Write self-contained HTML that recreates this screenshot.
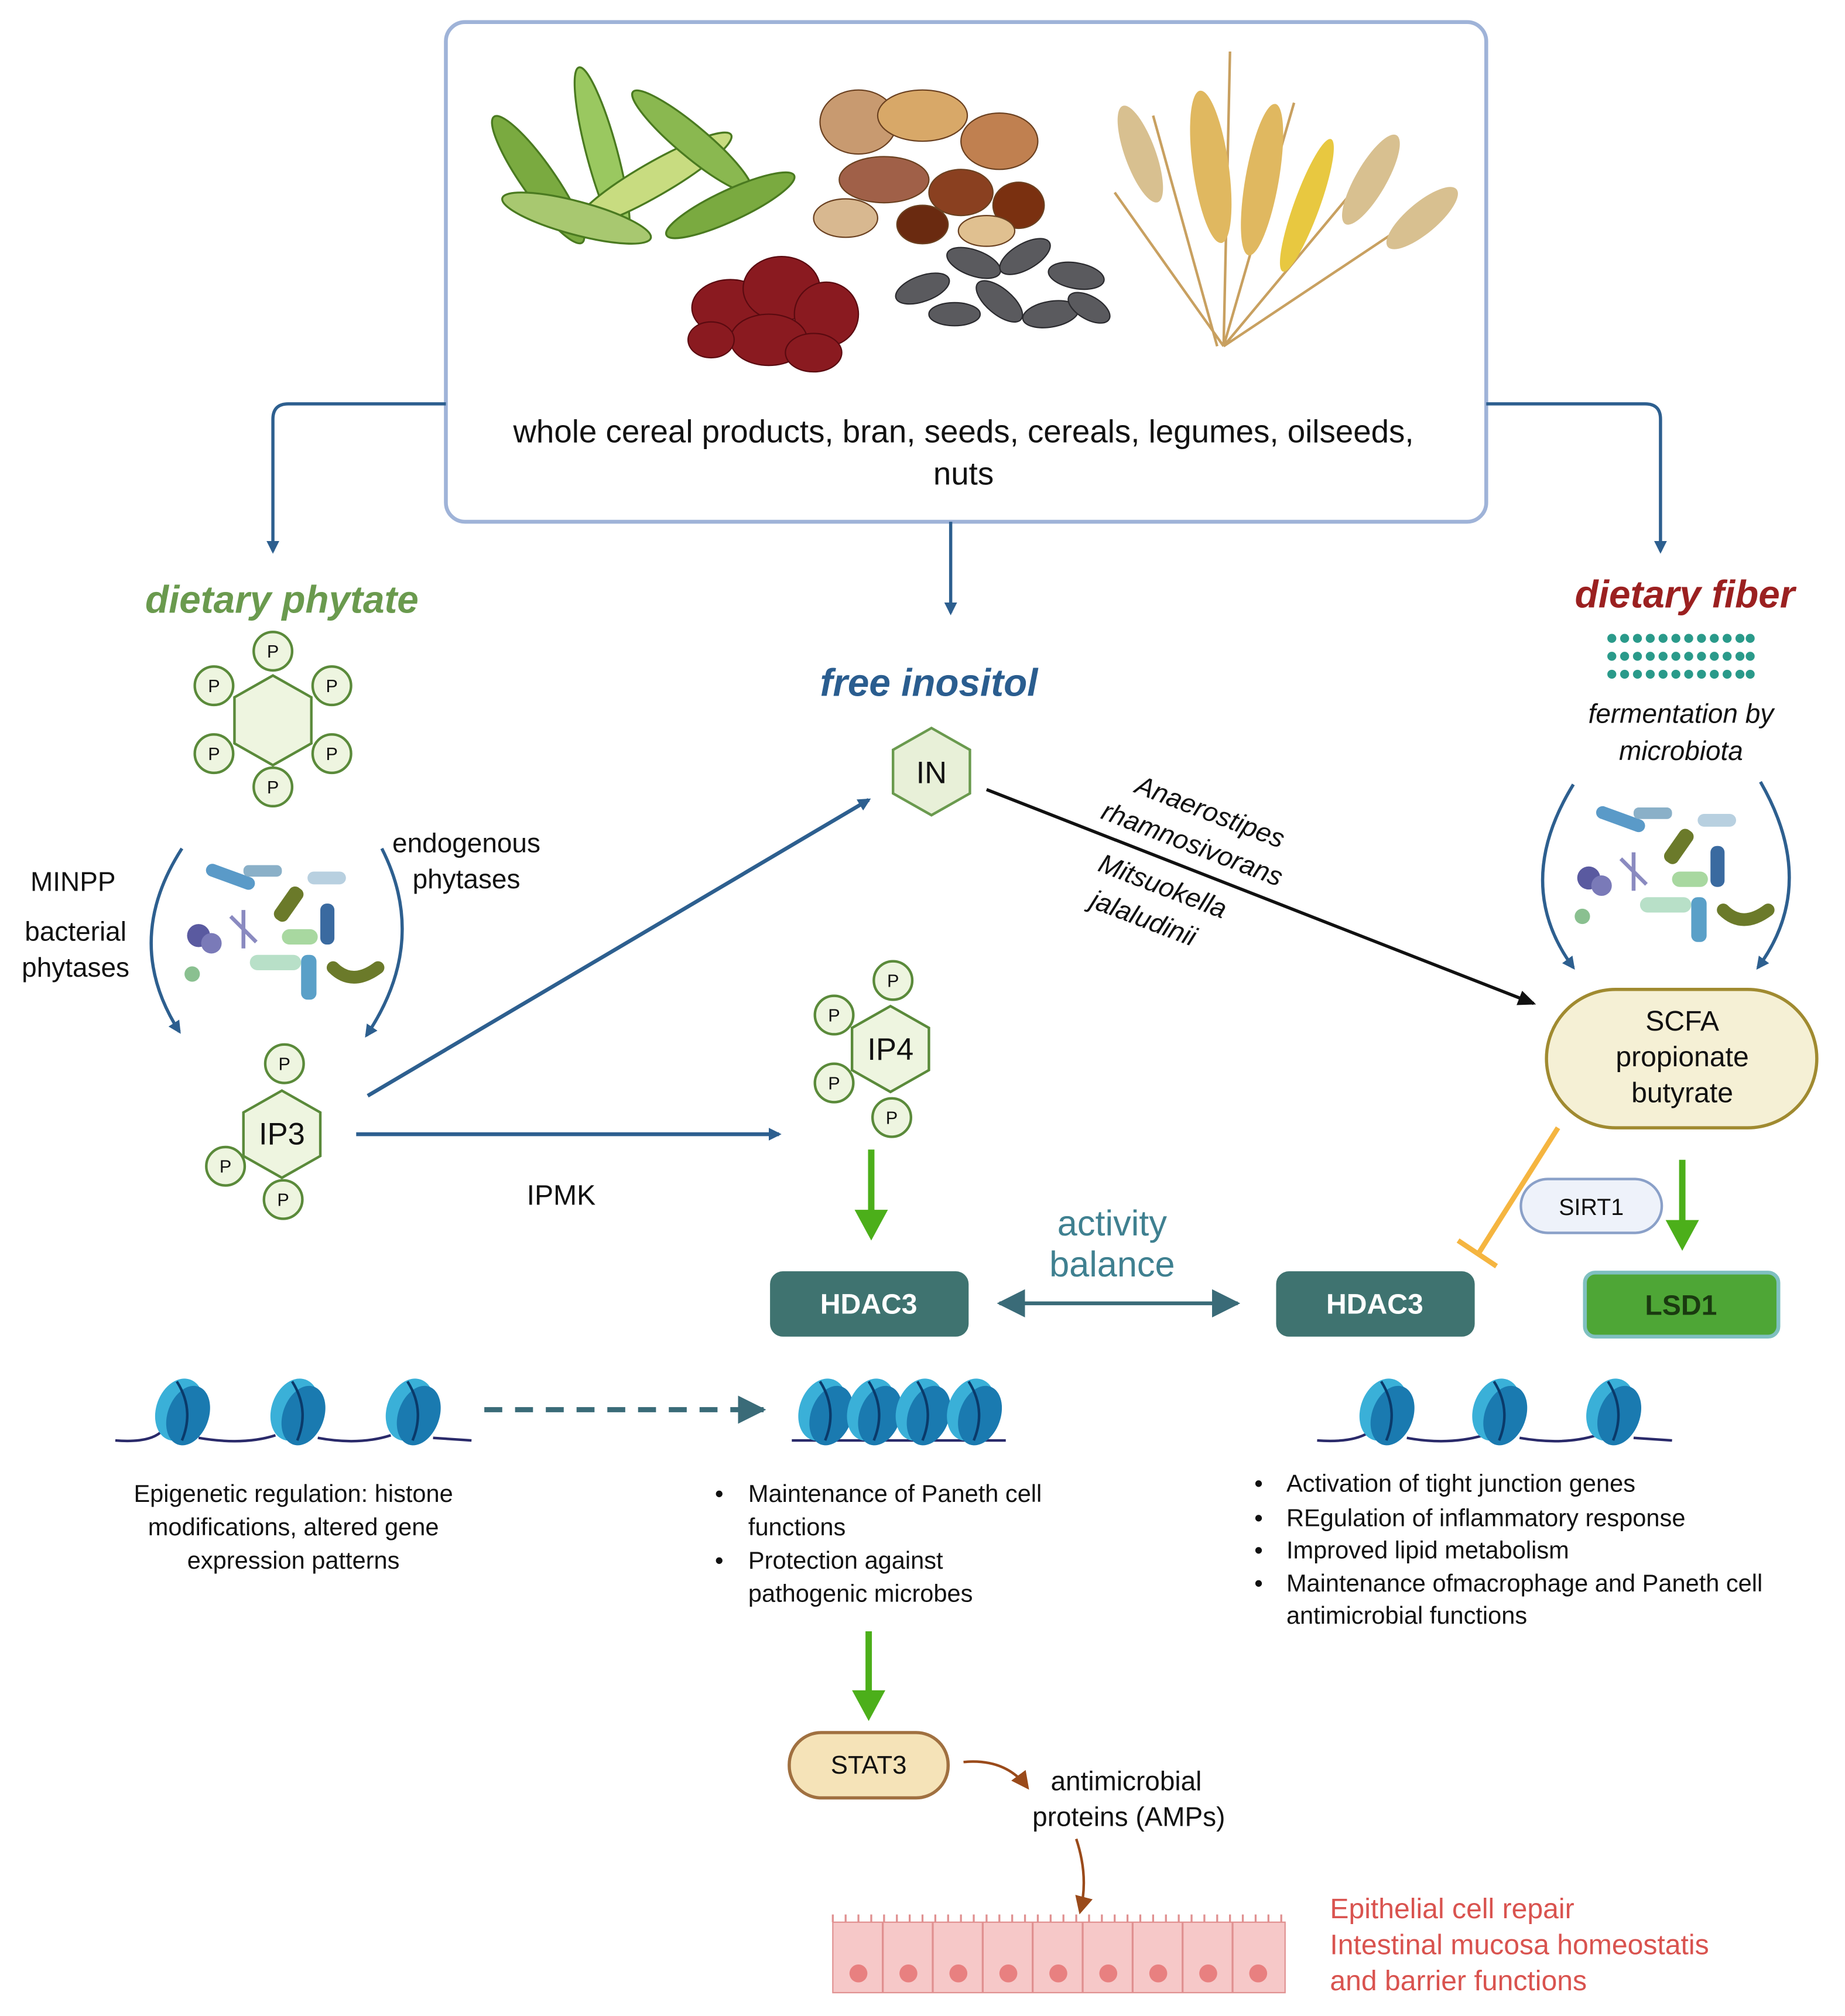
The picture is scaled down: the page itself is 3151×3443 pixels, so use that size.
<!DOCTYPE html>
<html><head><meta charset="utf-8"><style>html,body{margin:0;padding:0;background:#fff}svg{display:block}text{font-family:"Liberation Sans","DejaVu Sans",sans-serif}</style></head><body>
<svg width="3151" height="3443" viewBox="0 0 1440 1573" xmlns="http://www.w3.org/2000/svg">
<defs>
<marker id="ab" markerWidth="10" markerHeight="10" refX="8" refY="5" orient="auto" markerUnits="userSpaceOnUse"><path d="M0,0 L10,5 L0,10 z" fill="#2d5f8f"/></marker>
<marker id="ak" markerWidth="14" markerHeight="12" refX="12" refY="6" orient="auto" markerUnits="userSpaceOnUse"><path d="M0,0 L14,6 L0,12 z" fill="#111"/></marker>
<marker id="ag" markerWidth="26" markerHeight="26" refX="2" refY="13" orient="auto" markerUnits="userSpaceOnUse"><path d="M0,0 L24,13 L0,26 z" fill="#4caf1a"/></marker>
<marker id="at" markerWidth="22" markerHeight="22" refX="20" refY="11" orient="auto" markerUnits="userSpaceOnUse"><path d="M0,0 L22,11 L0,22 z" fill="#3a6b78"/></marker>
<marker id="at2" markerWidth="22" markerHeight="22" refX="2" refY="11" orient="auto" markerUnits="userSpaceOnUse"><path d="M22,0 L0,11 L22,22 z" fill="#3a6b78"/></marker>
<marker id="abr" markerWidth="14" markerHeight="14" refX="12" refY="7" orient="auto" markerUnits="userSpaceOnUse"><path d="M0,0 L14,7 L0,14 z" fill="#9a4a1a"/></marker>
<g id="bact">
<rect x="-70" y="-25" width="40" height="10" rx="5" fill="#5a9ac8" transform="rotate(20)"/>
<circle cx="-65" cy="10" r="9" fill="#5a5aa0"/><circle cx="-55" cy="16" r="8" fill="#7a7ab8"/>
<rect x="-10" y="-30" width="12" height="30" rx="5" fill="#6b7a2a" transform="rotate(35)"/>
<rect x="20" y="-40" width="30" height="10" rx="5" fill="#b8d0e0"/>
<rect x="-30" y="-45" width="30" height="9" rx="4" fill="#8ab0c8"/>
<rect x="0" y="5" width="28" height="12" rx="6" fill="#a8d8a0"/>
<rect x="30" y="-15" width="11" height="32" rx="5" fill="#3a6aa0"/>
<rect x="-25" y="25" width="40" height="12" rx="6" fill="#b8e0c8"/>
<rect x="15" y="25" width="12" height="35" rx="5" fill="#5aa0c8"/>
<path d="M40,35 q15,15 35,0" stroke="#6b7a2a" stroke-width="10" fill="none" stroke-linecap="round"/>
<circle cx="-70" cy="40" r="6" fill="#8ac090"/>
<path d="M-40,-5 l20,20 M-30,-10 l0,30" stroke="#8a8ac0" stroke-width="3"/>
</g>
<g id="fr" fill="#2a9a8a"><circle cx="1258" cy="0" r="3.5"/><circle cx="1268" cy="0" r="3.5"/><circle cx="1278" cy="0" r="3.5"/><circle cx="1288" cy="0" r="3.5"/><circle cx="1298" cy="0" r="3.5"/><circle cx="1308" cy="0" r="3.5"/><circle cx="1318" cy="0" r="3.5"/><circle cx="1328" cy="0" r="3.5"/><circle cx="1338" cy="0" r="3.5"/><circle cx="1348" cy="0" r="3.5"/><circle cx="1358" cy="0" r="3.5"/><circle cx="1366" cy="0" r="3.5"/></g>
<g id="nuc"><ellipse cx="0" cy="0" rx="18" ry="25" fill="#3ab0d8" transform="rotate(20)"/><ellipse cx="8" cy="2" rx="16" ry="24" fill="#1a7ab0" transform="rotate(20)"/><path d="M-2,-22 Q12,0 2,24" stroke="#0a3a6a" stroke-width="2" fill="none"/></g>
</defs>
<!-- top box -->
<rect x="348" y="17" width="812" height="390" rx="15" fill="#fff" stroke="#9fb3d8" stroke-width="3"/>
<!-- foods -->
<g>
<g fill="#7aaa40" stroke="#4a7a20" stroke-width="1.5">
<ellipse cx="420" cy="140" rx="60" ry="13" transform="rotate(55 420 140)"/>
<ellipse cx="470" cy="120" rx="70" ry="12" transform="rotate(75 470 120)" fill="#9ac860"/>
<ellipse cx="510" cy="140" rx="70" ry="13" transform="rotate(-30 510 140)" fill="#c8dc80"/>
<ellipse cx="540" cy="110" rx="60" ry="12" transform="rotate(40 540 110)" fill="#8ab850"/>
<ellipse cx="570" cy="160" rx="55" ry="12" transform="rotate(-25 570 160)"/>
<ellipse cx="450" cy="170" rx="60" ry="13" transform="rotate(15 450 170)" fill="#a8c870"/>
</g>
<g stroke="#6a4020" stroke-width="1">
<ellipse cx="670" cy="95" rx="30" ry="25" fill="#c89a70"/><ellipse cx="720" cy="90" rx="35" ry="20" fill="#d8a868"/>
<ellipse cx="780" cy="110" rx="30" ry="22" fill="#c08050"/><ellipse cx="690" cy="140" rx="35" ry="18" fill="#a06048"/>
<ellipse cx="750" cy="150" rx="25" ry="18" fill="#8a4020"/><ellipse cx="660" cy="170" rx="25" ry="15" fill="#d8b890"/>
<ellipse cx="720" cy="175" rx="20" ry="15" fill="#6a2a10"/><ellipse cx="795" cy="160" rx="20" ry="18" fill="#7a3010"/>
<ellipse cx="770" cy="180" rx="22" ry="12" fill="#e0c090"/>
</g>
<g fill="#8a1a20" stroke="#5a0a10">
<ellipse cx="570" cy="240" rx="30" ry="22"/><ellipse cx="610" cy="225" rx="30" ry="25"/><ellipse cx="645" cy="245" rx="25" ry="25"/>
<ellipse cx="600" cy="265" rx="30" ry="20"/><ellipse cx="635" cy="275" rx="22" ry="15"/><ellipse cx="555" cy="265" rx="18" ry="14"/>
</g>
<g fill="#5a5a5e" stroke="#2a2a2e">
<ellipse cx="720" cy="225" rx="22" ry="10" transform="rotate(-20 720 225)"/><ellipse cx="760" cy="205" rx="22" ry="10" transform="rotate(20 760 205)"/>
<ellipse cx="800" cy="200" rx="22" ry="10" transform="rotate(-30 800 200)"/><ellipse cx="840" cy="215" rx="22" ry="10" transform="rotate(10 840 215)"/>
<ellipse cx="780" cy="235" rx="22" ry="10" transform="rotate(40 780 235)"/><ellipse cx="820" cy="245" rx="22" ry="10" transform="rotate(-10 820 245)"/>
<ellipse cx="745" cy="245" rx="20" ry="9"/><ellipse cx="850" cy="240" rx="18" ry="9" transform="rotate(30 850 240)"/>
</g>
<g stroke="#c8a060" stroke-width="2" fill="none">
<path d="M950,270 L900,90 M955,270 L960,40 M955,270 L1010,80 M955,270 L1080,120 M955,270 L870,150 M955,270 L1120,160"/>
</g>
<g fill="#e0b860">
<ellipse cx="945" cy="130" rx="14" ry="60" transform="rotate(-8 945 130)"/><ellipse cx="985" cy="140" rx="13" ry="60" transform="rotate(10 985 140)"/>
<ellipse cx="1020" cy="160" rx="10" ry="55" transform="rotate(20 1020 160)" fill="#e8c840"/>
<ellipse cx="890" cy="120" rx="12" ry="40" fill="#d8c090" transform="rotate(-20 890 120)"/>
<ellipse cx="1070" cy="140" rx="12" ry="40" fill="#d8c090" transform="rotate(30 1070 140)"/>
<ellipse cx="1110" cy="170" rx="12" ry="35" fill="#d8c090" transform="rotate(50 1110 170)"/>
</g>
</g>
<text x="752" y="345" font-size="25" text-anchor="middle" fill="#111">whole cereal products, bran, seeds, cereals, legumes, oilseeds,</text>
<text x="752" y="378" font-size="25" text-anchor="middle" fill="#111">nuts</text>
<!-- top arrows -->
<path d="M348,315 L225,315 Q213,315 213,327 L213,430" stroke="#2d5f8f" stroke-width="2.5" fill="none" marker-end="url(#ab)"/>
<path d="M1160,315 L1284,315 Q1296,315 1296,327 L1296,430" stroke="#2d5f8f" stroke-width="2.5" fill="none" marker-end="url(#ab)"/>
<path d="M742,407 L742,478" stroke="#2d5f8f" stroke-width="2.5" fill="none" marker-end="url(#ab)"/>
<!-- titles -->
<text x="220" y="478" font-size="30" font-weight="bold" font-style="italic" text-anchor="middle" fill="#6a9a4e">dietary phytate</text>
<text x="725" y="543" font-size="30" font-weight="bold" font-style="italic" text-anchor="middle" fill="#2a5d8f">free inositol</text>
<text x="1315" y="474" font-size="30" font-weight="bold" font-style="italic" text-anchor="middle" fill="#9b2020">dietary fiber</text>
<!-- phytate hexagon -->
<g stroke="#5a8a3a" stroke-width="2">
<polygon points="213,527 243,544 243,580 213,597 183,580 183,544" fill="#eef5e0"/>
<g fill="#eef5e0"><circle cx="213" cy="508" r="15"/><circle cx="167" cy="535" r="15"/><circle cx="259" cy="535" r="15"/><circle cx="167" cy="588" r="15"/><circle cx="259" cy="588" r="15"/><circle cx="213" cy="614" r="15"/></g>
</g>
<g font-size="14" text-anchor="middle" fill="#111"><text x="213" y="513">P</text><text x="167" y="540">P</text><text x="259" y="540">P</text><text x="167" y="593">P</text><text x="259" y="593">P</text><text x="213" y="619">P</text></g>
<!-- bacteria left -->
<g transform="translate(220,720)"><use href="#bact"/></g>
<path d="M142,662 Q95,735 140,805" stroke="#2d5f8f" stroke-width="2.5" fill="none" marker-end="url(#ab)"/>
<path d="M298,662 Q335,735 286,808" stroke="#2d5f8f" stroke-width="2.5" fill="none" marker-end="url(#ab)"/>
<g font-size="21" fill="#111" text-anchor="middle">
<text x="57" y="695">MINPP</text><text x="59" y="734">bacterial</text><text x="59" y="762">phytases</text>
<text x="364" y="665">endogenous</text><text x="364" y="693">phytases</text>
</g>
<!-- IP3 -->
<g stroke="#5a8a3a" stroke-width="2" fill="#eef5e0">
<polygon points="220,851 250,868 250,902 220,919 190,902 190,868"/>
<circle cx="222" cy="830" r="15"/><circle cx="176" cy="910" r="15"/><circle cx="221" cy="936" r="15"/>
</g>
<text x="220" y="893" font-size="24" text-anchor="middle" fill="#111">IP3</text>
<g font-size="14" text-anchor="middle" fill="#111"><text x="222" y="835">P</text><text x="176" y="915">P</text><text x="221" y="941">P</text></g>
<!-- IP4 -->
<g stroke="#5a8a3a" stroke-width="2" fill="#eef5e0">
<polygon points="695,785 725,802 725,835 695,852 665,835 665,802"/>
<circle cx="697" cy="765" r="15"/><circle cx="651" cy="792" r="15"/><circle cx="651" cy="845" r="15"/><circle cx="696" cy="872" r="15"/>
</g>
<text x="695" y="827" font-size="24" text-anchor="middle" fill="#111">IP4</text>
<g font-size="14" text-anchor="middle" fill="#111"><text x="697" y="770">P</text><text x="651" y="797">P</text><text x="651" y="850">P</text><text x="696" y="877">P</text></g>
<!-- IN -->
<polygon points="727,568 757,585 757,619 727,636 697,619 697,585" fill="#e8f0d8" stroke="#6a9a4e" stroke-width="2"/>
<text x="727" y="611" font-size="24" text-anchor="middle" fill="#111">IN</text>
<!-- arrows -->
<line x1="287" y1="855" x2="678" y2="624" stroke="#2d5f8f" stroke-width="3" marker-end="url(#ab)"/>
<line x1="278" y1="885" x2="608" y2="885" stroke="#2d5f8f" stroke-width="3" marker-end="url(#ab)"/>
<text x="438" y="940" font-size="22" text-anchor="middle" fill="#111">IPMK</text>
<line x1="770" y1="616" x2="1197" y2="783" stroke="#111" stroke-width="2.5" marker-end="url(#ak)"/>
<g font-size="21" font-style="italic" fill="#111" text-anchor="middle">
<text transform="translate(942,640) rotate(21)">Anaerostipes</text>
<text transform="translate(928,665) rotate(21)">rhamnosivorans</text>
<text transform="translate(905,698) rotate(21)">Mitsuokella</text>
<text transform="translate(890,723) rotate(21)">jalaludinii</text>
</g>
<!-- fiber -->
<use href="#fr" transform="translate(0,498)"/><use href="#fr" transform="translate(0,512)"/><use href="#fr" transform="translate(0,526)"/>
<g font-size="21" font-style="italic" fill="#111" text-anchor="middle"><text x="1312" y="564">fermentation by</text><text x="1312" y="593">microbiota</text></g>
<g transform="translate(1305,675)"><use href="#bact"/></g>
<path d="M1228,612 Q1180,690 1228,755" stroke="#2d5f8f" stroke-width="2.5" fill="none" marker-end="url(#ab)"/>
<path d="M1374,610 Q1420,690 1372,755" stroke="#2d5f8f" stroke-width="2.5" fill="none" marker-end="url(#ab)"/>
<!-- SCFA -->
<rect x="1207" y="772" width="211" height="108" rx="54" fill="#f5f0d5" stroke="#a08a30" stroke-width="2.5"/>
<g font-size="22" text-anchor="middle" fill="#111"><text x="1313" y="804">SCFA</text><text x="1313" y="832">propionate</text><text x="1313" y="860">butyrate</text></g>
<!-- green arrows -->
<line x1="680" y1="897" x2="680" y2="946" stroke="#4caf1a" stroke-width="5" marker-end="url(#ag)"/>
<line x1="1313" y1="905" x2="1313" y2="954" stroke="#4caf1a" stroke-width="5" marker-end="url(#ag)"/>
<line x1="678" y1="1273" x2="678" y2="1321" stroke="#4caf1a" stroke-width="5" marker-end="url(#ag)"/>
<!-- inhibition -->
<line x1="1216" y1="880" x2="1154" y2="978" stroke="#f5b540" stroke-width="4"/>
<line x1="1138" y1="968" x2="1168" y2="988" stroke="#f5b540" stroke-width="4"/>
<rect x="1187" y="920" width="110" height="42" rx="21" fill="#eef2fa" stroke="#8aa0c8" stroke-width="2"/>
<text x="1242" y="948" font-size="18" text-anchor="middle" fill="#111">SIRT1</text>
<!-- HDAC boxes -->
<rect x="601" y="992" width="155" height="51" rx="10" fill="#3f7370"/>
<text x="678" y="1025" font-size="22" font-weight="bold" text-anchor="middle" fill="#fff">HDAC3</text>
<rect x="996" y="992" width="155" height="51" rx="10" fill="#3f7370"/>
<text x="1073" y="1025" font-size="22" font-weight="bold" text-anchor="middle" fill="#fff">HDAC3</text>
<rect x="1237" y="993" width="151" height="50" rx="8" fill="#4ea636" stroke="#7fc0c0" stroke-width="3"/>
<text x="1312" y="1026" font-size="22" font-weight="bold" text-anchor="middle" fill="#1a3a10">LSD1</text>
<line x1="780" y1="1017" x2="966" y2="1017" stroke="#3a6b78" stroke-width="3" marker-end="url(#at)" marker-start="url(#at2)"/>
<g font-size="28" text-anchor="middle" fill="#3f8090"><text x="868" y="964">activity</text><text x="868" y="996">balance</text></g>
<!-- nucleosomes -->
<path d="M90,1124 Q115,1126 125,1118 M155,1122 Q190,1128 215,1120 M248,1122 Q280,1128 305,1120 M338,1122 L368,1124" stroke="#2a2a6a" stroke-width="2" fill="none"/>
<use href="#nuc" transform="translate(140,1100)"/><use href="#nuc" transform="translate(230,1100)"/><use href="#nuc" transform="translate(320,1100)"/>
<line x1="378" y1="1100" x2="596" y2="1100" stroke="#3a6b78" stroke-width="4" stroke-dasharray="14,10" marker-end="url(#at)"/>
<path d="M618,1124 L785,1124" stroke="#2a2a6a" stroke-width="2"/>
<use href="#nuc" transform="translate(642,1100)"/><use href="#nuc" transform="translate(680,1100)"/><use href="#nuc" transform="translate(718,1100)"/><use href="#nuc" transform="translate(758,1100)"/>
<path d="M1028,1124 Q1055,1126 1068,1118 M1098,1122 Q1130,1128 1158,1120 M1186,1122 Q1220,1128 1246,1120 M1275,1122 L1305,1124" stroke="#2a2a6a" stroke-width="2" fill="none"/>
<use href="#nuc" transform="translate(1080,1100)"/><use href="#nuc" transform="translate(1168,1100)"/><use href="#nuc" transform="translate(1257,1100)"/>
<!-- texts -->
<g font-size="19" fill="#111" text-anchor="middle"><text x="229" y="1172">Epigenetic regulation: histone</text><text x="229" y="1198">modifications, altered gene</text><text x="229" y="1224">expression patterns</text></g>
<g font-size="19" fill="#111"><text x="558" y="1172">•</text><text x="584" y="1172">Maintenance of Paneth cell</text><text x="584" y="1198">functions</text><text x="558" y="1224">•</text><text x="584" y="1224">Protection against</text><text x="584" y="1250">pathogenic microbes</text></g>
<g font-size="19" fill="#111"><text x="979" y="1164">•</text><text x="1004" y="1164">Activation of tight junction genes</text><text x="979" y="1191">•</text><text x="1004" y="1191">REgulation of inflammatory response</text><text x="979" y="1216">•</text><text x="1004" y="1216">Improved lipid metabolism</text><text x="979" y="1242">•</text><text x="1004" y="1242">Maintenance ofmacrophage and  Paneth cell</text><text x="1004" y="1267">antimicrobial functions</text></g>
<!-- STAT3 -->
<rect x="616" y="1352" width="124" height="51" rx="25" fill="#f5e3b8" stroke="#a07040" stroke-width="2.5"/>
<text x="678" y="1384" font-size="20" text-anchor="middle" fill="#111">STAT3</text>
<path d="M752,1375 Q785,1372 802,1395" stroke="#9a4a1a" stroke-width="2" fill="none" marker-end="url(#abr)"/>
<g font-size="21" fill="#111" text-anchor="middle"><text x="879" y="1397">antimicrobial</text><text x="881" y="1425">proteins (AMPs)</text></g>
<path d="M840,1435 Q850,1465 843,1492" stroke="#9a4a1a" stroke-width="2" fill="none" marker-end="url(#abr)"/>
<!-- epithelium -->
<g>
<rect x="650" y="1500" width="353" height="55" fill="#f6c8c8" stroke="#e09090"/>
<path d="M650,1500 l0,-6 M660,1500 l0,-6 M670,1500 l0,-6 M680,1500 l0,-6 M690,1500 l0,-6 M700,1500 l0,-6 M710,1500 l0,-6 M720,1500 l0,-6 M730,1500 l0,-6 M740,1500 l0,-6 M750,1500 l0,-6 M760,1500 l0,-6 M770,1500 l0,-6 M780,1500 l0,-6 M790,1500 l0,-6 M800,1500 l0,-6 M810,1500 l0,-6 M820,1500 l0,-6 M830,1500 l0,-6 M840,1500 l0,-6 M850,1500 l0,-6 M860,1500 l0,-6 M870,1500 l0,-6 M880,1500 l0,-6 M890,1500 l0,-6 M900,1500 l0,-6 M910,1500 l0,-6 M920,1500 l0,-6 M930,1500 l0,-6 M940,1500 l0,-6 M950,1500 l0,-6 M960,1500 l0,-6 M970,1500 l0,-6 M980,1500 l0,-6 M990,1500 l0,-6 M1000,1500 l0,-6 M689,1500 l0,55 M728,1500 l0,55 M767,1500 l0,55 M806,1500 l0,55 M845,1500 l0,55 M884,1500 l0,55 M923,1500 l0,55 M962,1500 l0,55" stroke="#e09090" stroke-width="1.5"/>
<g fill="#e88080"><circle cx="670" cy="1540" r="7"/><circle cx="709" cy="1540" r="7"/><circle cx="748" cy="1540" r="7"/><circle cx="787" cy="1540" r="7"/><circle cx="826" cy="1540" r="7"/><circle cx="865" cy="1540" r="7"/><circle cx="904" cy="1540" r="7"/><circle cx="943" cy="1540" r="7"/><circle cx="982" cy="1540" r="7"/></g>
</g>
<g font-size="22" fill="#d9534f"><text x="1038" y="1497">Epithelial cell repair</text><text x="1038" y="1525">Intestinal mucosa homeostatis</text><text x="1038" y="1553">and barrier functions</text></g>
</svg>
</body></html>
